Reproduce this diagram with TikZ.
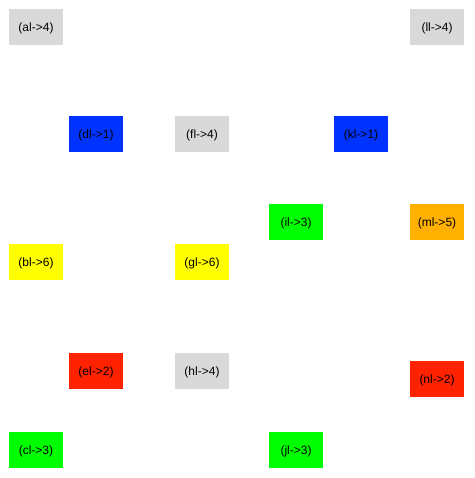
\documentclass[tikz,border=0pt]{standalone}
\usepackage{fontspec}
\setmainfont{Liberation Sans}
\definecolor{cgray}{HTML}{D9D9D9}
\definecolor{cblue}{HTML}{0033FF}
\definecolor{cgreen}{HTML}{00FF00}
\definecolor{cyellow}{HTML}{FFFF00}
\definecolor{corange}{HTML}{FFB000}
\definecolor{cred}{HTML}{FF2200}
\begin{document}
\begin{tikzpicture}[x=1pt,y=1pt,
  box/.style={minimum width=54pt,minimum height=36pt,inner sep=0pt,text depth=0pt,font=\fontsize{12}{14}\selectfont}]
\useasboundingbox[fill=white] (0,0) rectangle (474,478);
\node[box,fill=cgray] (al) at (36,451) {(al->4)};
\node[box,fill=cgray] (ll) at (437,451) {(ll->4)};
\node[box,fill=cblue] (dl) at (96,344) {(dl->1)};
\node[box,fill=cgray] (fl) at (202,344) {(fl->4)};
\node[box,fill=cblue] (kl) at (361,344) {(kl->1)};
\node[box,fill=cgreen] (il) at (296,256) {(il->3)};
\node[box,fill=corange] (ml) at (437,256) {(ml->5)};
\node[box,fill=cyellow] (bl) at (36,216) {(bl->6)};
\node[box,fill=cyellow] (gl) at (202,216) {(gl->6)};
\node[box,fill=cred] (el) at (96,107) {(el->2)};
\node[box,fill=cgray] (hl) at (202,107) {(hl->4)};
\node[box,fill=cred] (nl) at (437,99) {(nl->2)};
\node[box,fill=cgreen] (cl) at (36,28) {(cl->3)};
\node[box,fill=cgreen] (jl) at (296,28) {(jl->3)};
\end{tikzpicture}
\end{document}
